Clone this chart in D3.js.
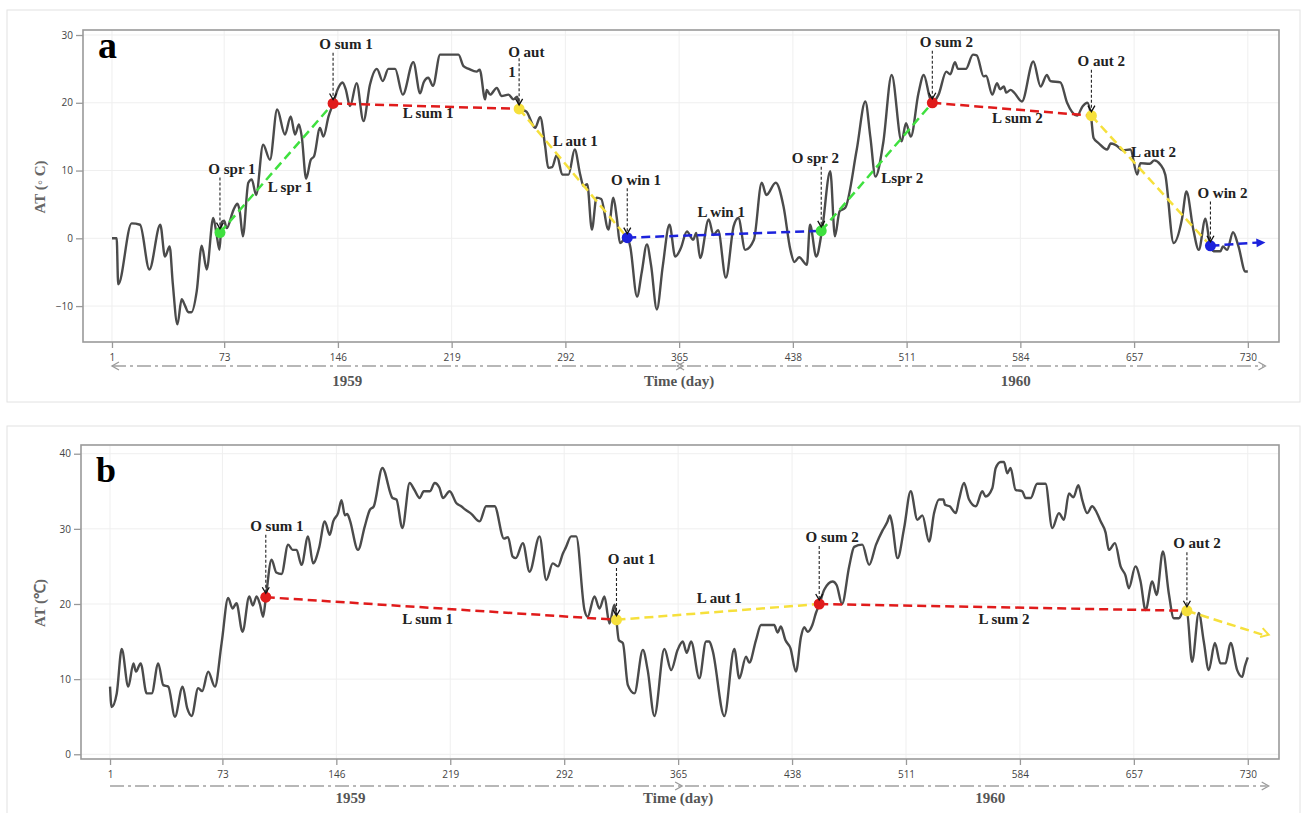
<!DOCTYPE html>
<html>
<head>
<meta charset="utf-8">
<script src="https://cdn.jsdelivr.net/npm/d3@7"></script>
<style>
  body { margin: 0; background: #fff; }
  svg { display: block; }
</style>
</head>
<body>
<div id="chart"></div>
<script>
// Air temperature (AT) series, [day, AT]
const seriesA = [[1,0],[4,0],[5,-6.8],[13.6,2.2],[19,2],[25,-4.6],[32,2],[35,-2.7],[38,-1.2],[40,-6.6],[43,-12.7],[45.7,-9],[48,-10],[50,-10.9],[52,-10.9],[55.4,-7.8],[58.6,-1.1],[61.8,-4.6],[66,3],[68,0.8],[70,-1.7],[71.4,2.4],[73,2.6],[74.6,1.5],[79,4.2],[81.5,5.1],[83,4],[85,0.3],[88.5,8.2],[90.7,8.7],[93.5,6.4],[98,13.8],[102.4,11.6],[107,19],[112,15.3],[115.7,18],[118.5,15.3],[121,16.8],[122.8,15],[125.6,8.8],[128.6,11.6],[130.7,12.1],[134.5,16.3],[136.7,15],[140,18],[143,19.9],[145.7,21.9],[149,23],[151,22],[153.8,19.5],[158,22.9],[162.4,17.3],[166.6,22.7],[171,25],[174.8,23.2],[178.4,25],[182.7,25],[187.6,21.2],[194.4,26],[198.8,21.4],[201,23],[204,23.7],[207,22.5],[211.6,27.1],[223.4,27.1],[226.6,25.4],[230,25],[235,24.6],[237,24.9],[240.5,20.5],[241.5,21.9],[243.7,21.2],[248,22.2],[251,21],[255.5,21.2],[258.7,20.5],[261,20.9],[263,19.1],[267,18.7],[272.6,16.3],[275.8,17.9],[279,13.6],[281,10.4],[283.5,10.5],[286.5,12.3],[290,9.4],[294,9.4],[298,13.1],[301.5,9.4],[303.7,7.7],[306,8],[309,1.3],[312,6],[315,5.8],[319.6,1.3],[322.8,6],[325,3],[327,-0.7],[331.5,0.2],[333.6,-1.2],[338,-8.6],[341,-5],[344.3,-0.9],[347,-4],[350.7,-10.5],[354.5,-4.1],[358.8,2],[362.5,-2.7],[366,-1.5],[370,1],[374,-0.2],[376,0.8],[378.5,-2.9],[384,2.8],[387,0.5],[390,1.2],[395,-5.8],[400,1.8],[403,3],[407.4,-1.7],[413,-0.2],[418,8.2],[421,6.4],[427,8.2],[432,4.7],[436.4,-1.7],[439,-3.5],[442,-2.8],[447,-3.9],[449,2],[453,-2.7],[456.6,1],[462,9.9],[465,0.3],[468,4],[471.6,4.5],[479,13.1],[484.5,20.2],[487.7,15],[491,9.1],[496,14.1],[501.4,24.1],[507.8,14.3],[510.6,17],[513.7,15],[518.6,21.4],[522,24.1],[526,20.7],[527.5,20],[531.5,21.2],[536.5,24.6],[539,24.2],[542,26],[544,25],[549,25],[553.6,27.1],[556,27],[560.4,23.9],[562,24],[566,21.2],[569,22.9],[571,22],[573.4,22.4],[575,21.5],[577.7,21.9],[580,21.5],[585,20.2],[592.3,26.1],[597,22.4],[601,24.1],[603.3,23.2],[609.7,23],[614,20],[620.4,18.1],[624,19.5],[627,20],[629.3,18.1],[631,14.8],[634,14.1],[639.7,13.1],[642,14],[645,13.8],[650,13],[654.6,13.1],[659,9.4],[661,11.1],[667,11],[670,11.5],[673.8,10.9],[677,9.4],[682.4,-0.7],[687.7,2.8],[690.6,6.9],[695,1.3],[698.5,-1.7],[702.8,2.9],[705.5,-0.7],[708,-1.9],[712.4,-1.9],[714,-1.2],[716.7,-1.7],[720.5,0.9],[724,-1.2],[728.4,-4.9],[730,-4.9]];

const seriesB = [[1,9],[2,6.3],[5.3,8.1],[8.5,14],[12.7,9],[16,12.1],[17.6,11],[20.6,12.1],[24.5,8.1],[27.7,8.1],[31.9,12.1],[35.1,9.2],[38.3,9],[42.6,5],[47.5,9],[50.5,6.1],[53.3,5.1],[57.5,8.8],[60,8.4],[63.9,11],[68.2,9],[72.5,14.8],[76.7,20.8],[79.5,19.4],[82,20.1],[85.9,16.3],[90.2,21],[92.5,19.8],[94.9,21],[97,20],[99.1,18.3],[100.8,20.8],[104.5,25.9],[107.5,24.2],[110.9,24],[115.1,27.9],[118,27.2],[120.5,27.2],[123.7,25.2],[127.9,29],[131.1,25.4],[135,27.5],[138.6,31],[141.8,29.2],[144,31],[147.1,32.1],[149.3,33.8],[151.5,31.8],[153,32],[154.6,31.2],[159.9,27.2],[164.2,30.3],[167.4,32.5],[170,33],[175.5,38.1],[182,34.1],[184.5,33.9],[188.3,30.1],[193,36.1],[196,35.2],[199.4,34.1],[202,35],[206,35],[209,36.1],[212,35.5],[214.3,34.1],[218.6,35],[223,33.4],[226,33],[229,32.5],[232.5,32],[237.8,31],[242,33],[247.4,33],[253.4,28.7],[256,28.9],[259,26.3],[261,26.1],[265.5,28.1],[269.8,24.3],[276.2,29],[280.5,23.2],[284.7,25.4],[288,25],[291.1,26.7],[293,27.5],[296.5,29],[299.7,29],[305,19.2],[307,18.3],[311.4,21],[314.6,19.4],[317.8,21],[321,17.4],[324.2,19.9],[327,15.2],[329.6,14.8],[332.8,9.2],[337,8.1],[342.4,13.9],[345.5,11.2],[349.8,5.1],[356.2,14],[360.5,11.2],[364.7,13.9],[368,15],[370.5,13.5],[373.3,15],[378.6,10.1],[382.9,15],[385,15],[387,13.9],[394.6,5.1],[401,14],[404.2,10.1],[408.5,13],[410.6,12.2],[414.9,15.2],[418.1,17.2],[426.6,17.2],[428.7,16.2],[430.8,17],[433.7,15.2],[437,14.1],[440.5,11],[443.7,15.6],[445.8,16.9],[448,16.3],[451,17.2],[453.3,18.8],[455.4,19.9],[458.6,21.9],[464,23],[466.6,22.5],[470,20],[474.6,25],[477.8,27.6],[483,27.9],[487.4,25.2],[491.8,27.9],[496,29.8],[499,30.9],[500.7,31.8],[502,30.8],[505.6,26.1],[509.8,30.1],[514,35],[518.3,31.2],[521.5,31.8],[525.8,28.3],[529,32.1],[532.2,33.9],[535,33.9],[536,33.2],[539,33],[542.9,32.1],[545,33.9],[548.2,36.1],[551.4,33.9],[555.7,33],[559.9,35],[562,34.3],[566.3,35.4],[568.5,38.1],[571.7,38.9],[573.8,38.9],[575.9,37.4],[578,38.1],[581.2,35.2],[585.5,35],[587.6,34.1],[590.9,34.1],[595,36],[600.4,36],[604.7,30.1],[609,32.1],[612.2,31.2],[615.4,34.7],[618.3,34.2],[621.4,35.8],[624,33.8],[627.1,32.1],[630.3,33],[632.4,32.5],[635.7,31],[638.9,29.5],[641,27.2],[644.9,28.1],[648.5,25],[651.6,23.8],[653.8,22.1],[658,25],[661.3,23],[664.5,19.2],[668.8,23],[671.6,21.2],[675.6,27],[679.4,21.4],[682.6,18.1],[685.9,18.1],[689,19.2],[691,19],[694.3,12.3],[698.6,18.8],[701.8,15],[705,11.2],[708.9,14.8],[712.5,12.1],[715.7,12.1],[719,14.8],[723.2,11.2],[726.4,10.3],[728.1,11.7],[730,12.9]];

// season onsets (O) and the trend (L) between consecutive onsets
const onsetsA = [
  { name: 'O spr 1', season: 'spr', day: 70.3, at: 0.84 },
  { name: 'O sum 1', season: 'sum', day: 142.9, at: 19.9 },
  { name: 'O aut 1', season: 'aut', day: 262.3, at: 19.1 },
  { name: 'O win 1', season: 'win', day: 331.7, at: 0.1 },
  { name: 'O spr 2', season: 'spr', day: 456.2, at: 1.1 },
  { name: 'O sum 2', season: 'sum', day: 527.5, at: 20.0 },
  { name: 'O aut 2', season: 'aut', day: 629.6, at: 18.1 },
  { name: 'O win 2', season: 'win', day: 706, at: -1.1 }
];
const trendNamesA = ['L spr 1', 'L sum 1', 'L aut 1', 'L win 1', 'Lspr 2', 'L sum 2', 'L aut 2'];
const trendEndA = { day: 741.3, at: -0.6 };

const onsetsB = [
  { name: 'O sum 1', season: 'sum', day: 100.8, at: 20.9 },
  { name: 'O aut 1', season: 'aut', day: 325.5, at: 17.9 },
  { name: 'O sum 2', season: 'sum', day: 455.4, at: 20.0 },
  { name: 'O aut 2', season: 'aut', day: 691, at: 19.1 }
];
const trendNamesB = ['L sum 1', 'L aut 1', 'L sum 2'];
const trendEndB = { day: 743.4, at: 15.9 };

const dayTicks = [1, 73, 146, 219, 292, 365, 438, 511, 584, 657, 730];
const atTicksA = [-10, 0, 10, 20, 30];
const atTicksB = [0, 10, 20, 30, 40];
const years = ['1959', '1960'];

const seasonColor = { spr: '#3fe03f', sum: '#e01b1b', aut: '#f6e03c', win: '#1c22dc' };

// layout: where the labels sit, in chart units [day, AT]
const onsetLabelA = [[78, 10.3], [151.2, 28.7], [255.3, 27.6], [337.4, 8.7], [452.4, 11.9], [536.5, 29.0], [636, 26.2], [713.7, 6.75]];
const trendLabelA = [[115.3, 7.6], [203.9, 18.55], [298.3, 14.4], [392, 3.9], [508.2, 8.96], [582.1, 17.8], [669.4, 12.8]];
const onsetLabelB = [[107.9, 30.4], [335.1, 26.0], [463.7, 28.9], [697.4, 28.1]];
const trendLabelB = [[204.5, 18.1], [391.4, 20.8], [573.8, 18.0]];

const serif = '"Liberation Serif", "Times New Roman", serif';
const sans = '"Open Sans", "Noto Sans", sans-serif';

const svg = d3.select('#chart').append('svg')
  .attr('width', 1305)
  .attr('height', 813);

const panels = [
  { letter: 'a', series: seriesA, onsets: onsetsA, trendNames: trendNamesA, trendEnd: trendEndA,
    onsetLabels: onsetLabelA, trendLabels: trendLabelA, ticks: atTicksA, yDomain: [-15.3, 30.74],
    box: [7, 10, 1293, 392], l: 83, r: 1279, t: 30, b: 342, yearGap: 24, yearDays: [152, 581],
    ytitle: 'AT (\u25e6 C)', leftArrow: true, endFilled: true },
  { letter: 'b', series: seriesB, onsets: onsetsB, trendNames: trendNamesB, trendEnd: trendEndB,
    onsetLabels: onsetLabelB, trendLabels: trendLabelB, ticks: atTicksB, yDomain: [-0.63, 41.16],
    box: [7, 426, 1293, 420], l: 81, r: 1279, t: 445, b: 759, yearGap: 27, yearDays: [155, 565],
    ytitle: 'AT (\u2103)', leftArrow: false, endFilled: false }
];

panels.forEach(drawPanel);

function drawPanel(p) {
  const g = svg.append('g');

  const x = d3.scaleLinear().domain([-17.6, 750]).range([p.l, p.r]);
  const y = d3.scaleLinear().domain(p.yDomain).range([p.b, p.t]);

  g.append('rect')
    .attr('x', p.box[0]).attr('y', p.box[1])
    .attr('width', p.box[2]).attr('height', p.box[3])
    .attr('fill', 'none').attr('stroke', '#e2e2e2');

  // grid
  g.append('g').selectAll('line').data(dayTicks).join('line')
    .attr('x1', d => x(d)).attr('x2', d => x(d))
    .attr('y1', p.t).attr('y2', p.b)
    .attr('stroke', '#efefef');
  g.append('g').selectAll('line').data(p.ticks).join('line')
    .attr('x1', p.l).attr('x2', p.r)
    .attr('y1', d => y(d)).attr('y2', d => y(d))
    .attr('stroke', '#efefef');

  g.append('rect')
    .attr('x', p.l).attr('y', p.t)
    .attr('width', p.r - p.l).attr('height', p.b - p.t)
    .attr('fill', 'none').attr('stroke', '#9a9a9a').attr('stroke-width', 1.6);

  // axes
  const yAxis = g.append('g')
    .attr('transform', `translate(${p.l},0)`)
    .call(d3.axisLeft(y).tickValues(p.ticks).tickSize(7).tickPadding(3));
  const xAxis = g.append('g')
    .attr('transform', `translate(0,${p.b})`)
    .call(d3.axisBottom(x).tickValues(dayTicks).tickSize(6).tickPadding(6));
  [xAxis, yAxis].forEach(ax => {
    ax.select('.domain').remove();
    ax.selectAll('line').attr('stroke', '#999').attr('stroke-width', 1.3);
    ax.selectAll('text').attr('fill', '#444').style('font', `10px ${sans}`);
  });

  // year bar below the axis
  const yy = p.b + p.yearGap;
  g.append('line')
    .attr('x1', x(1)).attr('x2', x(p.trendEnd.day) - 2)
    .attr('y1', yy).attr('y2', yy)
    .attr('stroke', '#a0a0a0').attr('stroke-width', 1.5)
    .attr('stroke-dasharray', '14,4,3,4');
  const chevron = (cx, dir) => `M${cx - dir * 7},${yy - 4}L${cx},${yy}L${cx - dir * 7},${yy + 4}`;
  const gc = g.append('g').attr('fill', 'none').attr('stroke', '#9a9a9a').attr('stroke-width', 1.3);
  gc.append('path').attr('d', chevron(x(p.trendEnd.day), 1));
  gc.append('path').attr('d', chevron(x(365) + 4, 1));
  if (p.leftArrow) {
    gc.append('path').attr('d', chevron(x(1), -1));
    gc.append('path').attr('d', chevron(x(365) - 2, -1));
  }

  g.append('g').selectAll('text').data(years).join('text')
    .attr('x', (d, i) => x(p.yearDays[i]))
    .attr('y', p.b + 39)
    .attr('dy', '0.35em')
    .attr('text-anchor', 'middle')
    .attr('fill', '#555')
    .style('font', `bold 15px ${serif}`)
    .text(d => d);

  g.append('text')
    .attr('x', x(365)).attr('y', p.b + 39).attr('dy', '0.35em')
    .attr('text-anchor', 'middle').attr('fill', '#555')
    .style('font', `bold 15px ${serif}`)
    .text('Time (day)');

  g.append('text')
    .attr('transform', `translate(40,${(p.t + p.b) / 2 + 1}) rotate(-90)`)
    .attr('dy', '0.35em')
    .attr('text-anchor', 'middle').attr('fill', '#666')
    .style('font', `bold 15px ${serif}`)
    .text(p.ytitle);

  // AT series
  const line = d3.line()
    .x(d => x(d[0]))
    .y(d => y(d[1]))
    .curve(d3.curveMonotoneX);
  g.append('path')
    .datum(p.series)
    .attr('d', line)
    .attr('fill', 'none')
    .attr('stroke', '#4b4b4b')
    .attr('stroke-width', 2.4)
    .attr('stroke-linejoin', 'round');

  // trends between onsets
  const segs = p.onsets.map((o, i) => {
    const next = p.onsets[i + 1] || p.trendEnd;
    return { from: o, to: next, color: seasonColor[o.season], last: !p.onsets[i + 1] };
  });
  g.append('g').selectAll('line').data(segs).join('line')
    .attr('x1', d => x(d.from.day)).attr('y1', d => y(d.from.at))
    .attr('x2', d => x(d.to.day) - (d.last ? 6 : 0)).attr('y2', d => y(d.to.at))
    .attr('stroke', d => d.color)
    .attr('stroke-width', 2.5)
    .attr('stroke-dasharray', '9,5');

  // arrow at the end of the last trend
  const last = segs[segs.length - 1];
  const ex = x(last.to.day), ey = y(last.to.at);
  const ang = Math.atan2(ey - y(last.from.at), ex - x(last.from.day));
  const hx = (a, r) => ex + r * Math.cos(ang + a), hy = (a, r) => ey + r * Math.sin(ang + a);
  if (p.endFilled) {
    g.append('path')
      .attr('d', `M${ex},${ey}L${hx(Math.PI - 0.45, 10)},${hy(Math.PI - 0.45, 10)}L${hx(Math.PI + 0.45, 10)},${hy(Math.PI + 0.45, 10)}Z`)
      .attr('fill', last.color);
  } else {
    g.append('path')
      .attr('d', `M${hx(Math.PI - 0.55, 9)},${hy(Math.PI - 0.55, 9)}L${ex},${ey}L${hx(Math.PI + 0.55, 9)},${hy(Math.PI + 0.55, 9)}`)
      .attr('fill', 'none').attr('stroke', last.color).attr('stroke-width', 2);
  }

  // onset markers
  g.append('g').selectAll('circle').data(p.onsets).join('circle')
    .attr('cx', d => x(d.day)).attr('cy', d => y(d.at))
    .attr('r', 5.5)
    .attr('fill', d => seasonColor[d.season]);

  // onset labels with dashed pointers
  const og = g.append('g').selectAll('g').data(p.onsets).join('g');
  og.each(function (d, i) {
    const sel = d3.select(this);
    const lp = p.onsetLabels[i];
    const mx = x(d.day), my = y(d.at);
    const twoLine = p.letter === 'a' && d.name === 'O aut 1';
    const txt = sel.append('text')
      .attr('x', x(lp[0])).attr('y', y(lp[1])).attr('dy', '0.35em')
      .attr('text-anchor', twoLine ? 'start' : 'middle')
      .attr('fill', '#222')
      .style('font', `bold 15px ${serif}`);
    if (twoLine) {
      txt.append('tspan').text('O aut');
      txt.append('tspan').attr('x', x(lp[0])).attr('dy', 20).text('1');
    } else {
      txt.text(d.name);
    }
    const top = y(lp[1]) + (twoLine ? 7 : 9);
    sel.append('line')
      .attr('x1', mx).attr('x2', mx)
      .attr('y1', top).attr('y2', my - 4)
      .attr('stroke', '#222').attr('stroke-width', 1.1)
      .attr('stroke-dasharray', '3,2');
    sel.append('path')
      .attr('d', `M${mx - 3.5},${my - 10}L${mx},${my - 4}L${mx + 3.5},${my - 10}`)
      .attr('fill', 'none').attr('stroke', '#111').attr('stroke-width', 1.3);
  });

  // trend labels
  g.append('g').selectAll('text').data(p.trendNames).join('text')
    .attr('x', (d, i) => x(p.trendLabels[i][0]))
    .attr('y', (d, i) => y(p.trendLabels[i][1]))
    .attr('dy', '0.35em')
    .attr('text-anchor', 'middle')
    .attr('fill', '#222')
    .style('font', `bold 15px ${serif}`)
    .text(d => d);

  // panel letter
  g.append('text')
    .attr('x', p.l + 15).attr('y', p.t + (p.letter === 'a' ? 28 : 37))
    .attr('fill', '#000')
    .style('font', `bold ${p.letter === 'a' ? 38 : 36}px ${serif}`)
    .text(p.letter);
}
</script>
</body>
</html>
